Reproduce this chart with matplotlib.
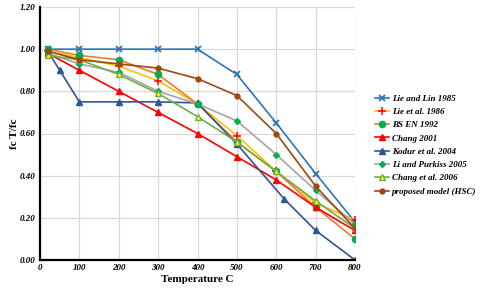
import matplotlib
matplotlib.use("Agg")
import matplotlib.pyplot as plt

# data
temps = [20, 100, 200, 300, 400, 500, 600, 700, 800]
lie_lin = [1.00, 1.00, 1.00, 1.00, 1.00, 0.88, 0.65, 0.41, 0.18]
lie_etal = [0.99, 0.96, 0.92, 0.85, 0.74, 0.59, 0.42, 0.27, 0.19]
bs_en = [1.00, 0.97, 0.95, 0.88, 0.74, 0.56, 0.42, 0.25, 0.10]
chang01 = [0.98, 0.90, 0.80, 0.70, 0.60, 0.49, 0.38, 0.25, 0.14]
kodur_t = [20, 50, 100, 200, 300, 400, 500, 620, 700, 800]
kodur = [0.99, 0.90, 0.75, 0.75, 0.75, 0.745, 0.55, 0.29, 0.14, 0.0]
li_purkiss = [0.98, 0.93, 0.89, 0.80, 0.74, 0.66, 0.50, 0.33, 0.17]
chang06 = [0.97, 0.95, 0.88, 0.79, 0.68, 0.56, 0.42, 0.28, 0.15]
proposed = [0.99, 0.95, 0.93, 0.91, 0.86, 0.78, 0.60, 0.35, 0.15]

labels = ["Lie and Lin 1985", "Lie et al. 1986", "BS EN 1992", "Chang 2001",
          "Kodur et al. 2004", "Li and Purkiss 2005", "Chang et al. 2006",
          "proposed model (HSC)"]

plt.rcParams['font.family'] = ['Liberation Serif', 'DejaVu Serif']

fig = plt.figure(figsize=(4.8, 2.93), dpi=100)
ax = fig.add_axes([40/480, 33/293, 315/480, 253/293])

lw = 1.2
ax.plot(temps, lie_lin, color='#2E75B6', lw=lw, marker='x', ms=5, mew=1.3, label=labels[0])
ax.plot(temps, lie_etal, color='#FFC000', lw=lw, marker='+', ms=6, mew=1.1, mec='#FF0000', label=labels[1])
ax.plot(temps, bs_en, color='#ED7D31', lw=lw, marker='o', ms=4.5, mfc='#00B050', mec='#00B050', label=labels[2])
ax.plot(temps, chang01, color='#FF0000', lw=lw, marker='^', ms=5, label=labels[3])
ax.plot(kodur_t, kodur, color='#2F5597', lw=lw, marker='^', ms=5, label=labels[4])
ax.plot(temps, li_purkiss, color='#A5A5A5', lw=lw, marker='D', ms=3, mfc='#00B050', mec='#00B050', label=labels[5])
ax.plot(temps, chang06, color='#70AD47', lw=lw, marker='^', ms=5, mfc='#FFFF00', mec='#70AD47', label=labels[6])
ax.plot(temps, proposed, color='#9E480E', lw=lw, marker='o', ms=3.5, label=labels[7])

ax.set_xlim(0, 800)
ax.set_ylim(0, 1.2)
ax.set_xticks(range(0, 801, 100))
ax.set_yticks([0, 0.2, 0.4, 0.6, 0.8, 1.0, 1.2])
ax.set_yticklabels(["%.2f" % v for v in [0, 0.2, 0.4, 0.6, 0.8, 1.0, 1.2]])
for t in ax.get_xticklabels() + ax.get_yticklabels():
    t.set_fontweight('bold')
    t.set_fontstyle('italic')
    t.set_fontsize(6.5)
ax.tick_params(length=0, pad=3)
ax.grid(True, color='#D9D9D9', lw=0.9)
ax.set_axisbelow(True)
for s in ['top', 'right']:
    ax.spines[s].set_visible(False)
for s in ['left', 'bottom']:
    ax.spines[s].set_linewidth(1.6)
    ax.spines[s].set_color('black')

ax.set_xlabel("Temperature C", fontsize=8, fontweight='bold', labelpad=2)
ax.set_ylabel("fc T/fc", fontsize=8, fontweight='bold', labelpad=1)

leg = fig.legend(loc='center left', bbox_to_anchor=(370/480, 0.505), frameon=False,
                 prop={'size': 6.5, 'weight': 'bold', 'style': 'italic'},
                 handlelength=1.6, handletextpad=0.3, labelspacing=0.55, borderpad=0)

fig.savefig("out.png", dpi=100)
